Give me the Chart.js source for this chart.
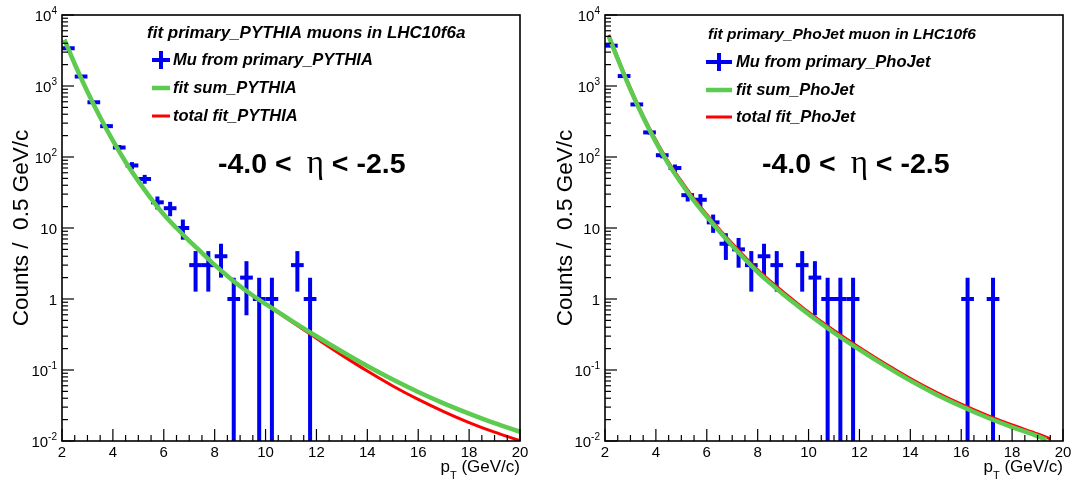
<!DOCTYPE html>
<html>
<head>
<meta charset="utf-8">
<script src="https://cdn.jsdelivr.net/npm/chart.js@4.4.0/dist/chart.umd.min.js"></script>
<style>
  html, body { margin: 0; padding: 0; background: #fff; }
  #wrap { position: relative; width: 1079px; height: 481px; }
  .pad { position: absolute; top: 0; height: 481px; }
</style>
</head>
<body>
<div id="wrap">
  <div class="pad" style="left:0;width:540px"><canvas id="c1" width="540" height="481"></canvas></div>
  <div class="pad" style="left:540px;width:539px"><canvas id="c2" width="539" height="481"></canvas></div>
</div>
<script>
// ---- data ----
const xTickLabels = ['2', '4', '6', '8', '10', '12', '14', '16', '18', '20'];
const yTickValues = [10000, 1000, 100, 10, 1, 0.1, 0.01];
const yTickLabels = [['10', '4'], ['10', '3'], ['10', '2'], ['10', ''], ['1', ''], ['10', '-1'], ['10', '-2']];

// PYTHIA (left)
const pyX = [2.25, 2.75, 3.25, 3.75, 4.25, 4.75, 5.25, 5.75, 6.25, 6.75, 7.25, 7.75, 8.25, 8.75, 9.25, 9.75, 10.25, 11.25, 11.75];
const pyCounts = [3400, 1360, 590, 272, 136, 76, 49, 23, 19, 10, 3, 3, 4, 1, 2, 1, 1, 3, 1];
const pyErr = [58, 37, 24, 16.5, 11.7, 8.7, 7.0, 4.8, 4.36, 3.16, 1.73, 1.73, 2.0, 1.0, 1.41, 1.0, 1.0, 1.73, 1.0];
const pyFitX = [2.1, 2.5, 3, 3.5, 4, 4.5, 5, 5.5, 6, 6.5, 7, 7.5, 8, 8.5, 9, 9.5, 10, 11, 12, 13, 14, 15, 16, 17, 18, 19, 20];
const pyFitSum = [4470, 2040, 832, 363, 170, 85.1, 45.7, 26.0, 15.5, 10.0, 6.61, 4.47, 3.02, 2.11, 1.51, 1.12, 0.851,
                  0.501, 0.299, 0.182, 0.1135, 0.0733, 0.049, 0.0339, 0.0243, 0.0178, 0.0135];
const pyTotal = [4470, 2040, 832, 363, 170, 85.1, 45.7, 26.0, 15.5, 10.0, 6.61, 4.47, 3.02, 2.11, 1.51, 1.12, 0.851,
                 0.484, 0.279, 0.162, 0.0966, 0.0596, 0.0385, 0.026, 0.0182, 0.0133, 0.0101];

// PhoJet (right)
const phX = [2.25, 2.75, 3.25, 3.75, 4.25, 4.75, 5.25, 5.75, 6.25, 6.75, 7.25, 7.75, 8.25, 8.75, 9.75, 10.25, 10.75, 11.25, 11.75, 16.25, 17.25];
const phCounts = [3700, 1380, 550, 222, 106, 70, 29, 25, 12, 6, 5, 3, 4, 3, 3, 2, 1, 1, 1, 1, 1];
const phErr = [61, 37, 23, 15, 10.3, 8.4, 5.4, 5.0, 3.46, 2.45, 2.24, 1.73, 2.0, 1.73, 1.73, 1.41, 1.0, 1.0, 1.0, 1.0, 1.0];
const phFitX = [2.15, 2.5, 3, 3.5, 4, 4.5, 5, 5.5, 6, 6.5, 7, 7.5, 8, 8.5, 9, 9.5, 10, 11, 12, 13, 14, 15, 16, 17, 18, 19, 19.35];
const phFitSum = [5010, 2400, 891, 363, 162, 79.4, 42.7, 24.0, 14.5, 8.91, 5.62, 3.63, 2.40, 1.66, 1.17, 0.841, 0.61,
                  0.335, 0.193, 0.115, 0.0708, 0.0457, 0.0309, 0.0216, 0.0157, 0.0117, 0.0104];
const phTotalX = [2.15, 2.5, 3, 3.5, 4, 4.5, 5, 5.5, 6, 6.5, 7, 7.5, 8, 8.5, 9, 9.5, 10, 11, 12, 13, 14, 15, 16, 17, 18, 19, 19.5];
const phTotal = [5250, 2510, 933, 380, 172, 84.1, 45.7, 25.7, 15.5, 9.55, 6.03, 3.89, 2.57, 1.78, 1.26, 0.902, 0.653,
                 0.359, 0.207, 0.123, 0.0759, 0.049, 0.0331, 0.0232, 0.0168, 0.0126, 0.0107];

const FONT = '"Liberation Sans", Arial, Helvetica, sans-serif';
const BLUE = '#0000f0';
const GREEN = '#5ccb4f';
const RED = '#ff0000';

function pairs(xs, ys) { return xs.map((x, i) => ({ x: x, y: ys[i] })); }
function line(ctx, x1, y1, x2, y2) { ctx.beginPath(); ctx.moveTo(x1, y1); ctx.lineTo(x2, y2); ctx.stroke(); }

// ROOT-like frame, ticks, labels, legend, texts
const rootStyle = {
  id: 'rootStyle',
  afterDatasetDraw(chart, args, opts) {
    if (args.index !== 2) return;
    // error bars for the histogram points
    const ctx = chart.ctx, xs = chart.scales.x, ys = chart.scales.y;
    const ds = chart.data.datasets[2];
    const a = chart.chartArea;
    ctx.save();
    ctx.beginPath(); ctx.rect(a.left, a.top, a.right - a.left, a.bottom - a.top); ctx.clip();
    ctx.strokeStyle = BLUE; ctx.lineCap = 'butt';
    ds.data.forEach((p, i) => {
      const e = ds.errors[i];
      const px = xs.getPixelForValue(p.x), py = ys.getPixelForValue(p.y);
      const lo = Math.max(p.y - e, ys.min);
      ctx.lineWidth = 4;
      line(ctx, px, ys.getPixelForValue(lo), px, ys.getPixelForValue(p.y + e));
      ctx.lineWidth = 4;
      line(ctx, xs.getPixelForValue(p.x - 0.25), py, xs.getPixelForValue(p.x + 0.25), py);
    });
    ctx.restore();
  },
  afterDraw(chart, args, o) {
    const ctx = chart.ctx, xs = chart.scales.x, ys = chart.scales.y, a = chart.chartArea;
    ctx.save();
    ctx.strokeStyle = '#000'; ctx.fillStyle = '#000';
    // frame
    ctx.lineWidth = 1.6;
    ctx.strokeRect(a.left, a.top, a.right - a.left, a.bottom - a.top);
    // x ticks
    ctx.lineWidth = 1.2;
    for (let v = 2; v <= 20.001; v += 0.5) {
      const px = xs.getPixelForValue(v);
      const major = Math.abs(v / 2 - Math.round(v / 2)) < 1e-6;
      line(ctx, px, a.bottom, px, a.bottom - (major ? 12 : 6));
    }
    // y ticks (log)
    for (let d = -2; d < 4; d++) {
      for (let m = 1; m < 10; m++) {
        const py = ys.getPixelForValue(m * Math.pow(10, d));
        line(ctx, a.left, py, a.left + (m === 1 ? 12 : 6), py);
      }
    }
    line(ctx, a.left, a.top, a.left + 12, a.top);
    // x tick labels
    ctx.font = '15px ' + FONT;
    ctx.textAlign = 'center'; ctx.textBaseline = 'top';
    xTickLabels.forEach(t => ctx.fillText(t, xs.getPixelForValue(Number(t)), a.bottom + 4));
    // y tick labels
    ctx.textBaseline = 'alphabetic'; ctx.textAlign = 'left';
    yTickValues.forEach((v, i) => {
      const [base, ex] = yTickLabels[i];
      const py = ys.getPixelForValue(v);
      ctx.font = '15px ' + FONT;
      const wb = ctx.measureText(base).width;
      ctx.font = '10px ' + FONT;
      const we = ex ? ctx.measureText(ex).width : 0;
      const right = a.left - 5;
      ctx.font = '15px ' + FONT;
      ctx.fillText(base, right - wb - we, py + 6);
      if (ex) { ctx.font = '10px ' + FONT; ctx.fillText(ex, right - we, py - 1); }
    });
    // axis titles
    ctx.font = '22.5px ' + FONT;
    ctx.save();
    ctx.translate(o.yTitleX, (a.top + a.bottom) / 2);
    ctx.rotate(-Math.PI / 2);
    ctx.textAlign = 'center'; ctx.textBaseline = 'middle';
    ctx.fillText('Counts /  0.5 GeV/c', 0, 0);
    ctx.restore();
    ctx.textAlign = 'left';
    ctx.font = '17px ' + FONT;
    const w1 = ctx.measureText('p').width, w3 = ctx.measureText(' (GeV/c)').width;
    ctx.font = '11px ' + FONT;
    const w2 = ctx.measureText('T').width;
    let xx = a.right - w1 - w2 - w3;
    ctx.font = '17px ' + FONT; ctx.fillText('p', xx, 472);
    ctx.font = '11px ' + FONT; ctx.fillText('T', xx + w1, 479);
    ctx.font = '17px ' + FONT; ctx.fillText(' (GeV/c)', xx + w1 + w2, 472);
    // legend
    ctx.textBaseline = 'middle';
    ctx.font = 'italic bold ' + o.titleSize + 'px ' + FONT;
    ctx.fillText(o.title, o.titleX, o.rows[0] - 27);
    const [m0, m1] = o.markX;
    ctx.strokeStyle = BLUE; ctx.lineWidth = 4;
    line(ctx, (m0 + m1) / 2, o.rows[0] - 9, (m0 + m1) / 2, o.rows[0] + 9);
    ctx.lineWidth = 4; line(ctx, m0, o.rows[0], m1, o.rows[0]);
    ctx.strokeStyle = GREEN; ctx.lineWidth = 4.5; line(ctx, m0, o.rows[1], m1, o.rows[1]);
    ctx.strokeStyle = RED; ctx.lineWidth = 3; line(ctx, m0, o.rows[2], m1, o.rows[2]);
    ctx.font = 'italic bold 16.5px ' + FONT;
    o.entries.forEach((t, i) => ctx.fillText(t, o.textX, o.rows[i]));
    // eta range
    ctx.textBaseline = 'alphabetic';
    let bx = o.etaX;
    ctx.font = 'bold 28.5px ' + FONT; ctx.fillText('-4.0 <', bx, o.etaY);
    bx += ctx.measureText('-4.0 <').width + 15;
    ctx.font = '33px "Liberation Serif", "Times New Roman", serif'; ctx.fillText('\u03b7', bx, o.etaY);
    bx += ctx.measureText('\u03b7').width;
    ctx.font = 'bold 28.5px ' + FONT; ctx.fillText(' < -2.5', bx, o.etaY);
    ctx.restore();
  }
};

function makePanel(id, pad, d, o) {
  new Chart(document.getElementById(id), {
    type: 'line',
    data: {
      datasets: [
        { label: d.sumLabel, data: pairs(d.fitX, d.fitSum), borderColor: GREEN, borderWidth: 4.5,
          pointRadius: 0, cubicInterpolationMode: 'monotone', fill: false },
        { label: d.totLabel, data: pairs(d.totX, d.total), borderColor: RED, borderWidth: 3,
          pointRadius: 0, cubicInterpolationMode: 'monotone', fill: false },
        { label: d.dataLabel, data: pairs(d.x, d.counts), errors: d.err, showLine: false,
          pointRadius: 0, borderColor: BLUE }
      ]
    },
    options: {
      responsive: false, animation: false, devicePixelRatio: 1,
      layout: { padding: pad },
      scales: {
        x: { type: 'linear', min: 2, max: 20, display: false },
        y: { type: 'logarithmic', min: 0.01, max: 10000, display: false }
      },
      plugins: { legend: { display: false }, tooltip: { enabled: false }, rootStyle: o }
    },
    plugins: [rootStyle]
  });
}

makePanel('c1', { left: 62, right: 20, top: 15, bottom: 40 },
  { x: pyX, counts: pyCounts, err: pyErr, fitX: pyFitX, fitSum: pyFitSum, totX: pyFitX, total: pyTotal,
    dataLabel: 'Mu from primary_PYTHIA', sumLabel: 'fit sum_PYTHIA', totLabel: 'total fit_PYTHIA' },
  { title: 'fit primary_PYTHIA muons in LHC10f6a', titleSize: 17, titleX: 147, rows: [60, 88, 116], markX: [152, 170], textX: 173,
    entries: ['Mu from primary_PYTHIA', 'fit sum_PYTHIA', 'total fit_PYTHIA'],
    etaX: 218, etaY: 173, yTitleX: 22 });

makePanel('c2', { left: 65, right: 16, top: 15, bottom: 40 },
  { x: phX, counts: phCounts, err: phErr, fitX: phFitX, fitSum: phFitSum, totX: phTotalX, total: phTotal,
    dataLabel: 'Mu from primary_PhoJet', sumLabel: 'fit sum_PhoJet', totLabel: 'total fit_PhoJet' },
  { title: 'fit primary_PhoJet muon in LHC10f6', titleSize: 15.5, titleX: 168, rows: [62, 90, 117], markX: [166, 192], textX: 196,
    entries: ['Mu from primary_PhoJet', 'fit sum_PhoJet', 'total fit_PhoJet'],
    etaX: 222, etaY: 173, yTitleX: 26 });
</script>
</body>
</html>
